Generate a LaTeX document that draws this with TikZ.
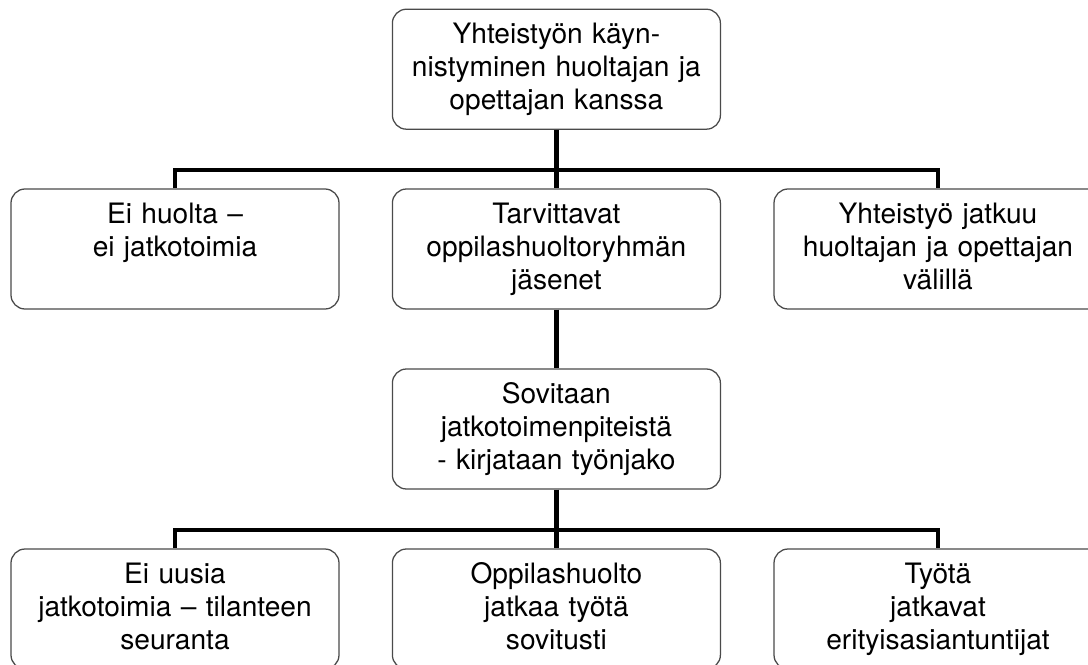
\documentclass[tikz,border=0pt]{standalone}
\usepackage{fontspec}
\setmainfont{TeX Gyre Heros}
\definecolor{boxBorder}{HTML}{4A4A4A}
\definecolor{linkColor}{HTML}{000000}

\begin{document}
\begin{tikzpicture}[
  font=\fontsize{20}{23.5}\selectfont,
  stage/.style={
    rectangle,
    rounded corners=10pt,
    draw=boxBorder,
    fill=white,
    line width=0.9pt,
    align=center,
    text width=7.8cm,
    inner xsep=0.2cm,
    inner ysep=0pt,
    text height=0.86cm,
    text depth=2.14cm
  },
  link/.style={linkColor, line width=3pt}
]
  \useasboundingbox (0,0) rectangle (27.2,-16.6);
  \clip (0,0) rectangle (27.2,-16.6);

  % connector rails
  \coordinate (railA) at (13.91,-4.25);
  \coordinate (railB) at (13.91,-13.25);

  \node[stage] (start) at (13.91,-1.73) {Yhteistyön käyn-\\nistyminen huoltajan ja\\opettajan kanssa};

  \node[stage] (noworry) at (4.375,-6.225) {Ei huolta –\\ei jatkotoimia};
  \node[stage] (members) at (13.91,-6.225) {Tarvittavat\\oppilashuoltoryhmän\\jäsenet};
  \node[stage] (continue) at (23.45,-6.225) {Yhteistyö jatkuu\\huoltajan ja opettajan\\välillä};

  \node[stage] (agree) at (13.91,-10.725) {Sovitaan\\jatkotoimenpiteistä\\- kirjataan työnjako};

  \node[stage] (follow) at (4.375,-15.225) {Ei uusia\\jatkotoimia – tilanteen\\seuranta};
  \node[stage] (welfare) at (13.91,-15.225) {Oppilashuolto\\jatkaa työtä\\sovitusti};
  \node[stage] (experts) at (23.45,-15.225) {Työtä\\jatkavat\\erityisasiantuntijat};

  \draw[link] (start.south) -- (members.north);
  \draw[link] (noworry.north) |- (railA) -| (continue.north);
  \draw[link] (members.south) -- (agree.north);
  \draw[link] (agree.south) -- (welfare.north);
  \draw[link] (follow.north) |- (railB) -| (experts.north);

\end{tikzpicture}
\end{document}
